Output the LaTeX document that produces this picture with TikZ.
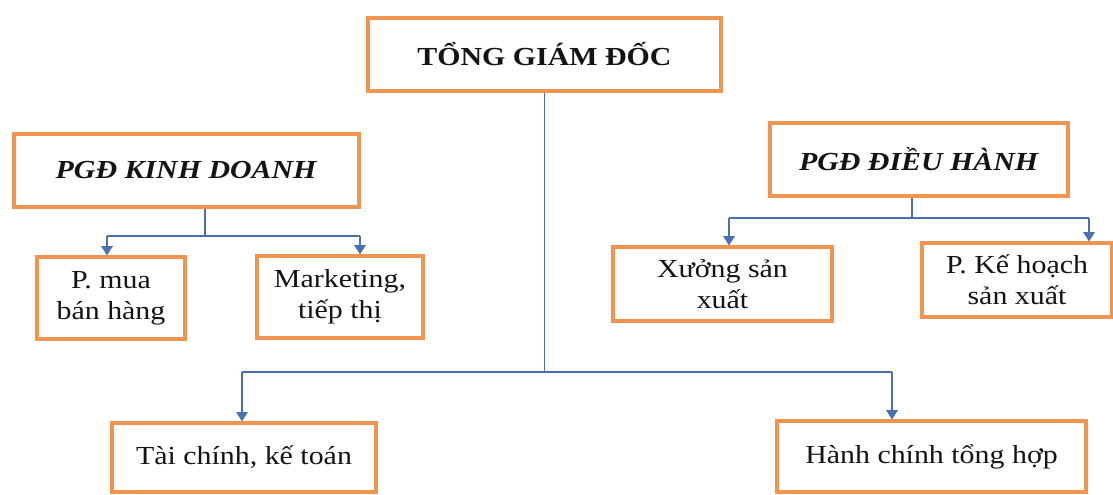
\documentclass[tikz,border=0pt]{standalone}
\usepackage{fontspec}
\setmainfont[FakeStretch=1.15]{Liberation Serif}
\usetikzlibrary{arrows.meta}
\definecolor{boxorange}{RGB}{240,148,80}
\definecolor{linkblue}{RGB}{72,112,178}
\definecolor{ink}{RGB}{20,20,20}
\begin{document}
\begin{tikzpicture}[x=0.75pt,y=-0.75pt,
  unit/.style={draw=boxorange, line width=2.3pt, fill=white, inner sep=0pt,
    align=center, text=ink, font=\fontsize{19.5}{23.5}\selectfont},
  link/.style={draw=linkblue, line width=1.3pt},
  arrowlink/.style={link, -{Triangle[width=8.5pt,length=7pt]}}]
\useasboundingbox (0,0) rectangle (1113,494);

% boxes
\node[unit, minimum width=264.75pt, minimum height=54.75pt] (tgd) at (544.5,54.5) {\textbf{TỔNG GIÁM ĐỐC}};
\node[unit, minimum width=258.75pt, minimum height=54.75pt] (pkd) at (186.5,170.5) {\textbf{\textit{PGĐ KINH DOANH}}};
\node[unit, minimum width=223.5pt, minimum height=54.75pt] (pdh) at (919,159.5) {\textbf{\textit{PGĐ ĐIỀU HÀNH}}};
\node[unit, minimum width=111pt, minimum height=61.5pt] (mua) at (111,298) {P. mua\\bán hàng};
\node[unit, minimum width=124.5pt, minimum height=61.5pt] (mkt) at (340,297) {Marketing,\\tiếp thị};
\node[unit, minimum width=164.25pt, minimum height=55.5pt] (xuong) at (722.5,284) {Xưởng sản\\xuất};
\node[unit, minimum width=142.5pt, minimum height=55.5pt] (khsx) at (1017,280) {P. Kế hoạch\\sản xuất};
\node[unit, minimum width=198pt, minimum height=51.75pt] (tc) at (244,457.5) {Tài chính, kế toán};
\node[unit, minimum width=231.75pt, minimum height=53.25pt] (hc) at (931.5,456.5) {Hành chính tổng hợp};

% main bus
\coordinate (busL) at (242,372);
\coordinate (busR) at (892,372);
\draw[link] (tgd.south) -- (tgd.south |- busL);
\draw[link] (busL) -- (busR);
\draw[arrowlink] (busL) -- (busL |- tc.north);
\draw[arrowlink] (busR) -- (busR |- hc.north);

% business branch
\coordinate (kdJ) at (205,236);
\coordinate (kdL) at (107,236);
\coordinate (kdR) at (360,236);
\draw[link] (kdJ |- pkd.south) -- (kdJ);
\draw[link] (kdL) -- (kdR);
\draw[arrowlink] (kdL) -- (kdL |- mua.north);
\draw[arrowlink] (kdR) -- (kdR |- mkt.north);

% operations branch
\coordinate (dhJ) at (912,218);
\coordinate (dhL) at (729,218);
\coordinate (dhR) at (1089,218);
\draw[link] (dhJ |- pdh.south) -- (dhJ);
\draw[link] (dhL) -- (dhR);
\draw[arrowlink] (dhL) -- (dhL |- xuong.north);
\draw[arrowlink] (dhR) -- (dhR |- khsx.north);
\end{tikzpicture}
\end{document}
